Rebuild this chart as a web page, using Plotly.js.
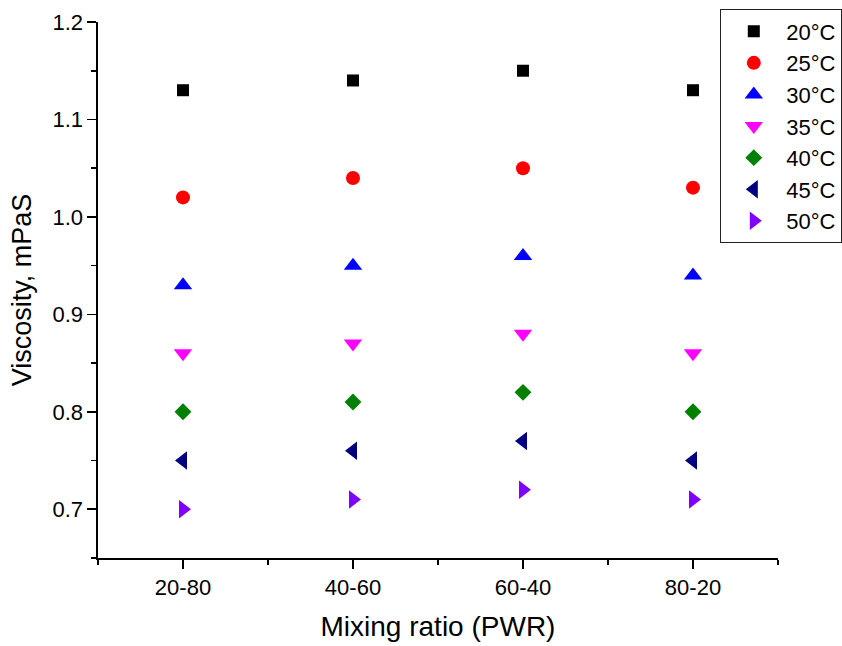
<!DOCTYPE html>
<html>
<head>
<meta charset="utf-8">
<script src="https://cdn.plot.ly/plotly-3.0.1.min.js"></script>
<style>html,body{margin:0;padding:0;background:#fff;}#chart{width:842px;height:646px;}</style>
</head>
<body>
<div id="chart"></div>
<script>
const categories = ["20-80", "40-60", "60-40", "80-20"];
const seriesNames = ["20°C", "25°C", "30°C", "35°C", "40°C", "45°C", "50°C"];
const v20 = [1.13, 1.14, 1.15, 1.13];
const v25 = [1.02, 1.04, 1.05, 1.03];
const v30 = [0.93, 0.95, 0.96, 0.94];
const v35 = [0.86, 0.87, 0.88, 0.86];
const v40 = [0.80, 0.81, 0.82, 0.80];
const v45 = [0.75, 0.76, 0.77, 0.75];
const v50 = [0.70, 0.71, 0.72, 0.71];
const seriesValues = [v20, v25, v30, v35, v40, v45, v50];

const colors = ["#000000", "#FF0000", "#0000FF", "#FF00FF", "#008000", "#000080", "#8000FF"];
const symbols = ["square", "circle", "triangle-up", "triangle-down", "diamond", "triangle-left", "triangle-right"];
const sizes = [12, 14, 16, 16, 13, 16, 16];

const xIdx = categories.map((c, i) => i);
const FONT = "Arial, 'Liberation Sans', sans-serif";

const traces = seriesValues.map((vals, k) => ({
  type: "scatter",
  mode: "markers",
  name: seriesNames[k],
  x: xIdx,
  y: vals,
  marker: {color: colors[k], symbol: symbols[k], size: sizes[k], line: {width: 0}},
  cliponaxis: false
}));

const layout = {
  width: 842, height: 646,
  margin: {l: 98, r: 64, t: 22, b: 88, autoexpand: false},
  paper_bgcolor: "#fff", plot_bgcolor: "#fff",
  font: {family: FONT, color: "#000"},
  showlegend: true,
  legend: {
    x: 0.9147, xanchor: "left", y: 1.024, yanchor: "top",
    bordercolor: "#222", borderwidth: 1.3, bgcolor: "#fff",
    font: {size: 22, family: FONT, color: "#000"},
    itemwidth: 55, tracegroupgap: 0
  },
  xaxis: {
    range: [-0.5, 3.5], tickmode: "array", tickvals: xIdx, ticktext: categories,
    showgrid: false, zeroline: false, showline: true, linecolor: "#000", linewidth: 1.6,
    ticks: "outside", ticklen: 9, tickwidth: 1.6, tickcolor: "#000",
    tickfont: {size: 22, family: FONT, color: "#000"},
    minor: {tick0: -0.5, dtick: 1, ticks: "outside", ticklen: 5, tickwidth: 1.6, tickcolor: "#000", showgrid: false},
    title: {text: "Mixing ratio (PWR)", font: {size: 28, family: FONT, color: "#000"}, standoff: 17},
    fixedrange: true
  },
  yaxis: {
    range: [0.65, 1.2], tick0: 0.7, dtick: 0.1, tickformat: ".1f",
    showgrid: false, zeroline: false, showline: true, linecolor: "#000", linewidth: 1.6,
    ticks: "outside", ticklen: 9, tickwidth: 1.6, tickcolor: "#000",
    tickfont: {size: 22, family: FONT, color: "#000"},
    minor: {tick0: 0.65, dtick: 0.05, ticks: "outside", ticklen: 5, tickwidth: 1.6, tickcolor: "#000", showgrid: false},
    title: {text: "Viscosity, mPaS", font: {size: 27, family: FONT, color: "#000"}, standoff: 13},
    fixedrange: true
  }
};

Plotly.newPlot("chart", traces, layout, {displayModeBar: false, staticPlot: true});
</script>
</body>
</html>
